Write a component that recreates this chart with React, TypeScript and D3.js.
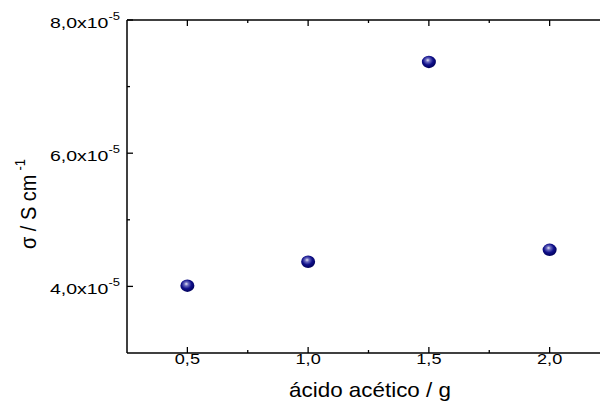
import * as d3 from "d3";

const acid = [0.5, 1.0, 1.5, 2.0];
const sigma = [4.01e-5, 4.37e-5, 7.37e-5, 4.55e-5];
const xMajor = [0.5, 1.0, 1.5, 2.0];
const xMinor = [0.75, 1.25, 1.75];
const yMajor = [4e-5, 6e-5, 8e-5];
const yMinor = [5e-5, 7e-5];

export default function App() {
  const width = 600;
  const height = 408;
  const left = 127;
  const top = 20;
  const bottom = 353;
  const font = "'Liberation Sans', Arial, sans-serif";

  const x = d3.scaleLinear().domain([0.25, 2.25]).range([left, 610]);
  const y = d3.scaleLinear().domain([3e-5, 8e-5]).range([bottom, top]);

  const fmtX = (v: number) => d3.format(".1f")(v).replace(".", ",");
  const mantissa = (v: number) => d3.format(".1f")(v * 1e5).replace(".", ",");

  return (
    <svg
      width={width}
      height={height}
      style={{ position: "absolute", left: 0, top: 0, background: "#fff" }}
    >
      <defs>
        <radialGradient id="ball" cx="0.45" cy="0.4" r="0.6" fx="0.42" fy="0.35">
          <stop offset="0" stopColor="#e8e8f4" />
          <stop offset="0.25" stopColor="#6a6ac0" />
          <stop offset="0.6" stopColor="#10108a" />
          <stop offset="1" stopColor="#00005a" />
        </radialGradient>
      </defs>

      {/* frame */}
      <line x1={left} x2={left} y1={top} y2={bottom} stroke="#000" strokeWidth={1.5} />
      <line x1={left} x2={width} y1={bottom} y2={bottom} stroke="#000" strokeWidth={1.5} />
      <line x1={left} x2={width} y1={top} y2={top} stroke="#000" strokeWidth={1.5} />

      {/* x ticks */}
      {xMajor.map((v) => (
        <g key={"xm" + v}>
          <line x1={x(v)} x2={x(v)} y1={bottom} y2={bottom - 6} stroke="#000" strokeWidth={1.3} />
          <line x1={x(v)} x2={x(v)} y1={top} y2={top + 6} stroke="#000" strokeWidth={1.3} />
          <g transform={`translate(${x(v)}, 364) scale(1.25, 1)`}>
            <text textAnchor="middle" fontFamily={font} fontSize={14.5} fill="#000">
              {fmtX(v)}
            </text>
          </g>
        </g>
      ))}
      {xMinor.map((v) => (
        <g key={"xn" + v}>
          <line x1={x(v)} x2={x(v)} y1={bottom} y2={bottom - 3} stroke="#000" strokeWidth={1.3} />
          <line x1={x(v)} x2={x(v)} y1={top} y2={top + 3} stroke="#000" strokeWidth={1.3} />
        </g>
      ))}

      {/* y ticks */}
      {yMajor.map((v) => (
        <g key={"ym" + v}>
          <line x1={left} x2={left + 6} y1={y(v)} y2={y(v)} stroke="#000" strokeWidth={1.3} />
          <g transform={`translate(120, ${y(v) + 7.5}) scale(1.3, 1)`}>
            <text textAnchor="end" fontFamily={font} fontSize={15} fill="#000">
              {mantissa(v) + "x10"}
              <tspan fontSize={10} dy={-8}>-5</tspan>
            </text>
          </g>
        </g>
      ))}
      {yMinor.map((v) => (
        <line key={"yn" + v} x1={left} x2={left + 3} y1={y(v)} y2={y(v)} stroke="#000" strokeWidth={1.3} />
      ))}

      {/* data */}
      {acid.map((a, i) => (
        <ellipse
          key={a}
          cx={x(a)}
          cy={y(sigma[i])}
          rx={7}
          ry={6.2}
          fill="url(#ball)"
        />
      ))}

      {/* axis titles */}
      <g transform="translate(370, 397) scale(1.12, 1)">
        <text textAnchor="middle" fontFamily={font} fontSize={20} fill="#000">
          ácido acético / g
        </text>
      </g>
      <g transform="translate(36, 204) scale(1.1, 1) rotate(-90)">
        <text textAnchor="middle" fontFamily={font} fontSize={20} fill="#000">
          σ / S cm
          <tspan fontSize={13} dx={4} dy={-10}>-1</tspan>
        </text>
      </g>
    </svg>
  );
}
